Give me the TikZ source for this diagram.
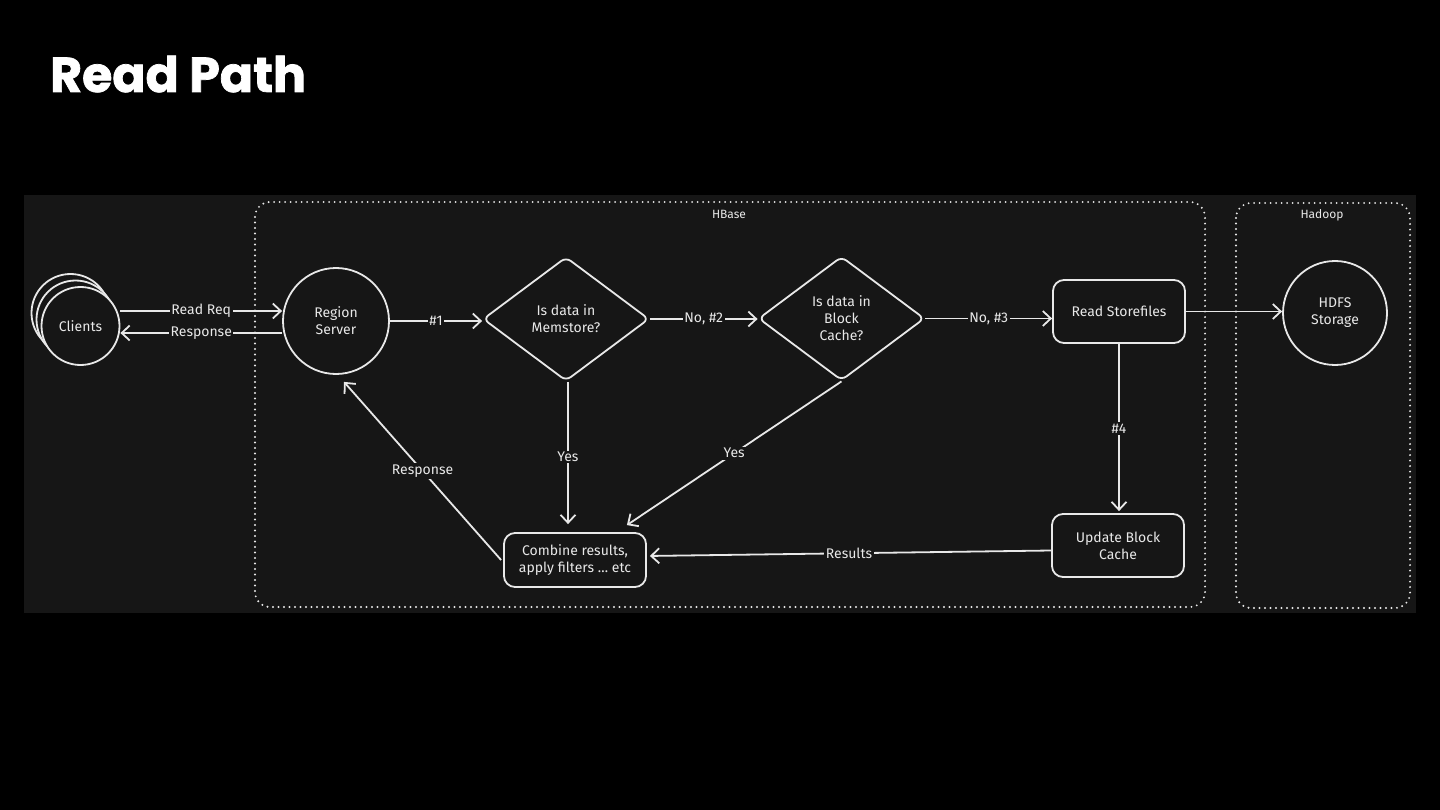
\documentclass[tikz,border=0pt]{standalone}
\usepackage{fontspec}
\setmainfont{Fira Sans}
\newfontfamily\titlefont{Poppins}[BoldFeatures={FakeBold=1.5}]
\usetikzlibrary{shapes.geometric,arrows.meta,calc}
\definecolor{panel}{HTML}{161616}
\definecolor{ink}{HTML}{E8E8E8}
\tikzset{
  txt/.style={font=\fontsize{14}{17}\selectfont, text=ink, align=center},
  lbl/.style={font=\fontsize{14}{15}\selectfont, text=ink, fill=panel, inner sep=1.5pt},
  grp/.style={font=\fontsize{12}{13}\selectfont, text=ink},
  circ/.style={txt, circle, draw=ink, line width=1.8pt, fill=panel, inner sep=0pt},
  dia/.style={txt, diamond, draw=ink, line width=1.8pt, fill=panel, inner sep=0pt,
              shape aspect=1.35, minimum width=166pt, minimum height=124pt, rounded corners=6pt},
  box/.style={txt, rectangle, draw=ink, line width=1.8pt, fill=panel, rounded corners=11pt},
  frame/.style={draw=ink, line width=2.1pt, line cap=round, dash pattern=on 0pt off 5.5pt, rounded corners=15pt},
  arr/.style={draw=ink, line width=1.8pt, -{Straight Barb[length=8pt,width=15pt]}},
}
\begin{document}
\begin{tikzpicture}[x=1pt,y=-1pt]
\useasboundingbox (0,0) rectangle (1440,810);
\fill[black] (0,0) rectangle (1440,810);
\fill[panel] (24,195) rectangle (1416,613);

\node[anchor=base west, text=white, inner sep=0pt, font=\titlefont\bfseries\fontsize{49}{58}\selectfont] (title) at (50,92) {Read Path};

% group frames
\draw[frame] (255,202) rectangle (1205,607);
\draw[frame] (1236,203) rectangle (1410,608);
\node[grp] (hbaselbl) at (729,214) {HBase};
\node[grp] (hadooplbl) at (1322,215) {Hadoop};

% nodes
\node[circ, minimum size=78pt] (cl3) at (70.5,313) {};
\node[circ, minimum size=78pt] (cl2) at (75.5,319.5) {};
\node[circ, minimum size=78pt] (cl) at (80.5,326) {Clients};
\node[circ, minimum size=106pt] (rs) at (336,321) {Region\\Server};
\node[dia] (d1) at (566,319) {Is data in\\Memstore?};
\node[dia] (d2) at (841.5,318.5) {Is data in\\Block\\Cache?};
\node[box, minimum width=132pt, minimum height=63pt] (rsf) at (1119,311.5) {Read Storefiles};
\node[circ, minimum size=104pt] (hdfs) at (1335,313) {HDFS\\Storage};
\node[box, minimum width=132pt, minimum height=63pt] (ubc) at (1118,545.5) {Update Block\\Cache};
\node[box, minimum width=142pt, minimum height=54pt] (cmb) at (575,560) {Combine results,\\apply filters \dots\ etc};

% connectors
\draw[arr] ([yshift=15pt]cl.east) -- ([yshift=15pt]cl.east -| rs.west) node[lbl, midway] (l1) {Read Req};
\draw[arr] ([yshift=-12pt]rs.west) -- ([yshift=-12pt]rs.west -| cl.east) node[lbl, midway] (l2) {Response};
\draw[arr] (rs.east) -- (rs.east -| d1.west) node[lbl, midway] (l3) {\#1};
\draw[arr] (d1.east) -- (d1.east -| d2.west) node[lbl, midway] (l4) {No, \#2};
\draw[arr] (d2.east) -- (d2.east -| rsf.west) node[lbl, midway] (l5) {No, \#3};
\draw[arr] (rsf.east) -- (rsf.east -| hdfs.west);
\draw[arr, shorten >=2pt] (rsf.south) -- (rsf.south |- ubc.north) node[lbl, midway] (l6) {\#4};
\draw[arr, shorten >=3pt] ([yshift=-5pt]ubc.west) -- ([yshift=4pt]cmb.east) node[lbl, midway] (l7) {Results};
\draw[arr, shorten >=8pt] ([xshift=2pt]d1.south) -- ([xshift=2pt]d1.south |- cmb.north) node[lbl, midway] (l8) {Yes};
\draw[arr] (d2.south) -- ([xshift=-20pt,yshift=7pt]cmb.north east) node[lbl, midway] (l9) {Yes};
\draw[arr] ([xshift=-2pt]cmb.west) -- ([xshift=8pt,yshift=-7pt]rs.south) node[lbl, midway] (l10) {Response};
\end{tikzpicture}
\end{document}
